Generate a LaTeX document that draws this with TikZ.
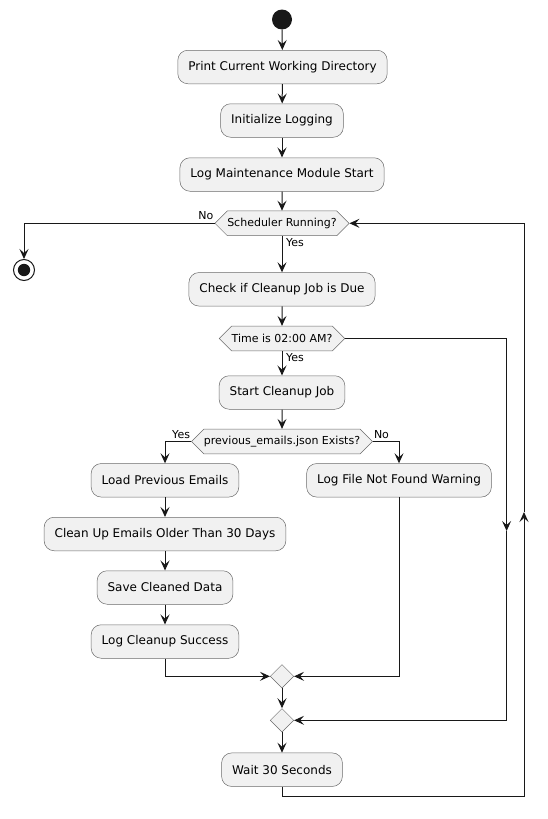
\documentclass[tikz,border=0pt]{standalone}
\usepackage{fontspec}
\setmainfont{DejaVu Sans}
\usetikzlibrary{arrows.meta,shapes.geometric,shapes.symbols}
\definecolor{boxfill}{HTML}{F1F1F1}
\definecolor{boxline}{HTML}{6A6A6A}
\definecolor{flowline}{HTML}{181818}

\begin{document}
\begin{tikzpicture}[x=1pt,y=-1pt,
    >={Stealth[length=10pt,width=9pt,inset=4pt]},
    act/.style={draw=boxline,fill=boxfill,line width=0.5pt,rounded corners=10pt,
        minimum height=33.5pt,inner xsep=10.5pt,font=\fontsize{12}{14}\selectfont},
    cond/.style={draw=boxline,fill=boxfill,line width=0.5pt,signal,signal to=east and west,
        signal pointer angle=90,minimum height=24.7pt,inner xsep=0pt,inner ysep=0pt,
        font=\fontsize{11}{13}\selectfont},
    merge/.style={draw=boxline,fill=boxfill,line width=0.5pt,diamond,
        minimum size=23.6pt,inner sep=0pt},
    lbl/.style={font=\fontsize{11}{13}\selectfont,inner sep=1pt},
    flow/.style={->,draw=flowline,line width=1pt}]
\useasboundingbox (0,0) rectangle (548,819);

% start and stop
\node[circle,fill=flowline,minimum size=20pt,inner sep=0pt] (start) at (282,19.5) {};
\node[circle,draw=flowline,fill=white,line width=1pt,minimum size=21pt,inner sep=0pt,
    path picture={\fill[flowline] (path picture bounding box.center) circle (6.2pt);}]
    (stop) at (24,270) {};

% main column
\node[act] (pcwd) at (282.5,67) {Print Current Working Directory};
\node[act] (initlog) at (282,120.5) {Initialize Logging};
\node[act] (modstart) at (282,174.5) {Log Maintenance Module Start};
\node[cond] (sched) at (282,223.3) {Scheduler Running?};
\node[act] (check) at (282,289.3) {Check if Cleanup Job is Due};
\node[cond] (time) at (282,338.5) {Time is 02:00 AM?};
\node[act] (job) at (282,392.5) {Start Cleanup Job};
\node[cond] (exists) at (282,441.5) {previous\_emails.json Exists?};

% branches
\node[act] (load) at (165,480.3) {Load Previous Emails};
\node[act] (clean) at (165,534) {Clean Up Emails Older Than 30 Days};
\node[act] (save) at (165,587.5) {Save Cleaned Data};
\node[act] (success) at (165,641.5) {Log Cleanup Success};
\node[act] (notfound) at (399,480.3) {Log File Not Found Warning};

\node[merge] (m1) at (282,676.3) {};
\node[merge] (m2) at (282,720.3) {};
\node[act] (wait) at (282,769.7) {Wait 30 Seconds};

\coordinate (skip) at (506.6,531);
\coordinate (wbot) at (282,796.7);
\coordinate (back) at (524,512);

% connectors
\draw[flow] (start) -- (pcwd);
\draw[flow] (pcwd) -- (initlog);
\draw[flow] (initlog) -- (modstart);
\draw[flow] (modstart) -- (sched);
\draw[flow] (sched.west) -| (stop);
\draw[flow] (sched) -- (check);
\draw[flow] (check) -- (time);
\draw[flow] (time) -- (job);
\draw[flow] (job) -- (exists);
\draw[flow] (exists.west) -| (load);
\draw[flow] (exists.east) -| (notfound);
\draw[flow] (load) -- (clean);
\draw[flow] (clean) -- (save);
\draw[flow] (save) -- (success);
\draw[flow] (success) |- (m1);
\draw[flow] (notfound) |- (m1);
\draw[flow] (m1) -- (m2);
\draw[flow] (time.east) -| (skip);
\draw[flow] (skip) |- (m2);
\draw[flow] (m2) -- (wait);
\draw[flow] (wait) -- (wbot) -| (back);
\draw[flow] (back) |- (sched.east);

% labels
\node[lbl,anchor=south east,yshift=2.5pt] at (sched.west) {No};
\node[lbl,anchor=north west,xshift=3pt,yshift=-1pt] at (sched.south) {Yes};
\node[lbl,anchor=north west,xshift=3pt,yshift=-1pt] at (time.south) {Yes};
\node[lbl,anchor=south east,yshift=1.5pt] at (exists.west) {Yes};
\node[lbl,anchor=south west,yshift=1.5pt] at (exists.east) {No};

\end{tikzpicture}
\end{document}
